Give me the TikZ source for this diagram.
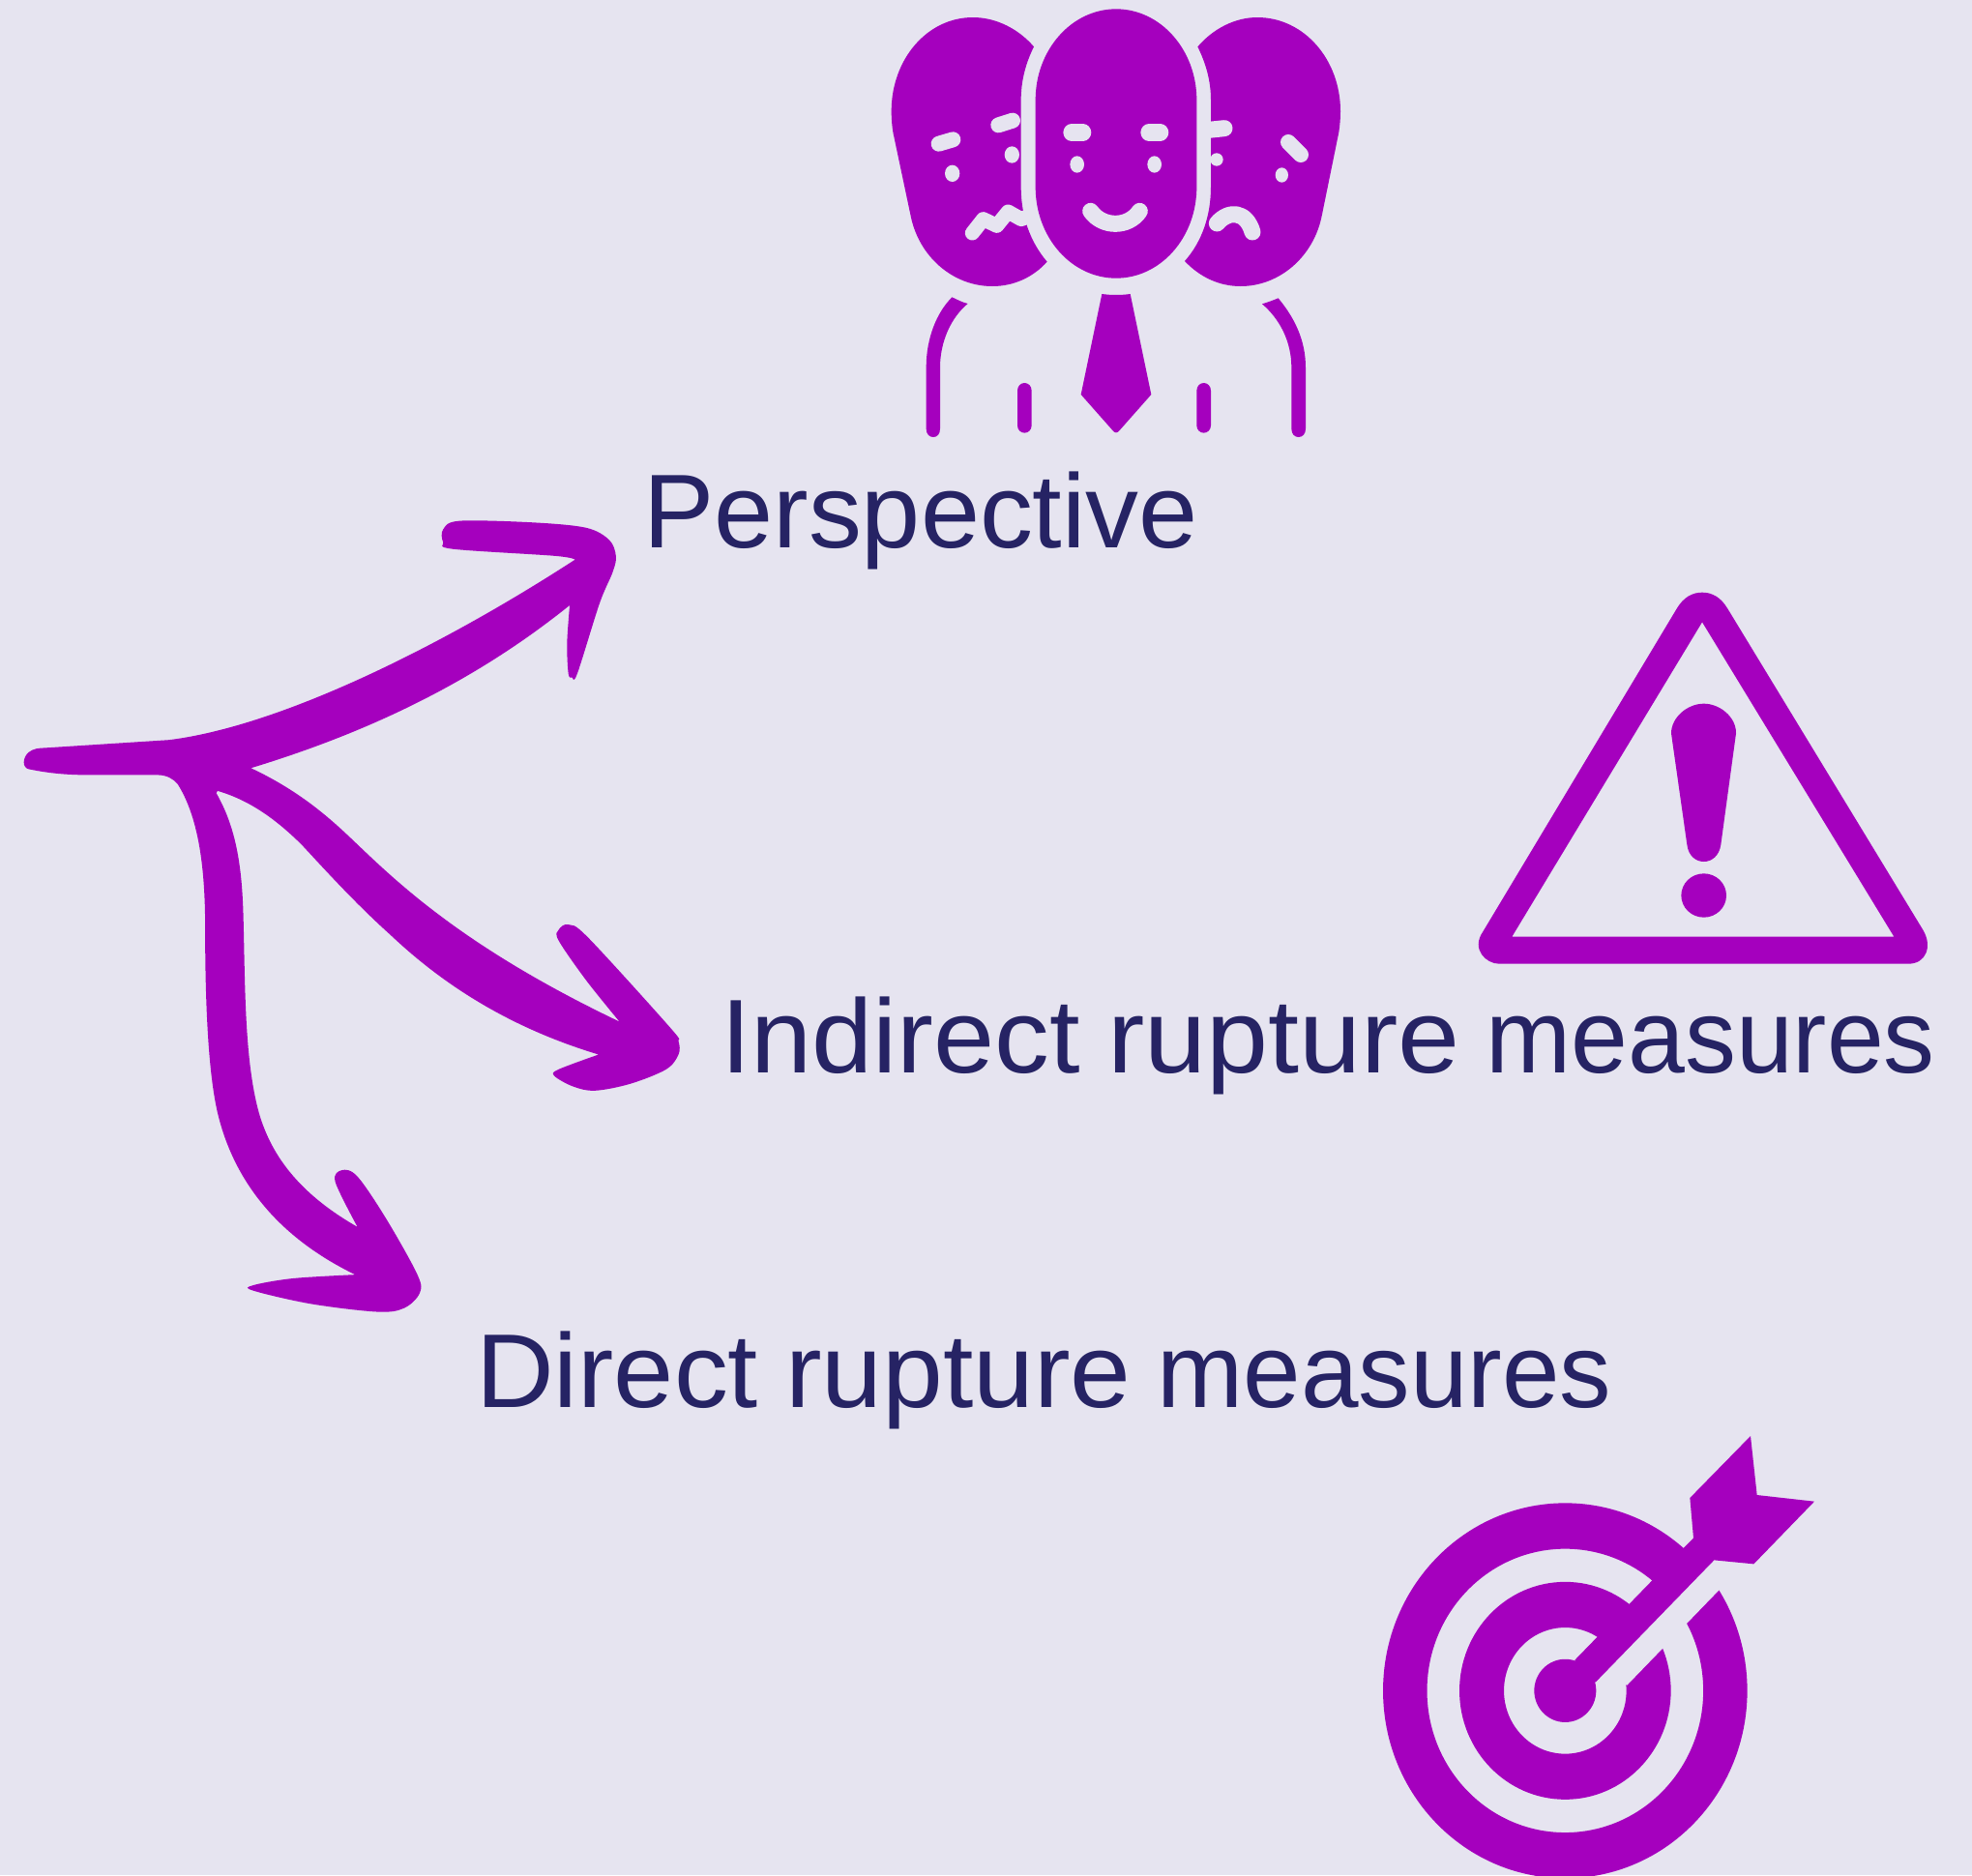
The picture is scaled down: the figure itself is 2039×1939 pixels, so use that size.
\documentclass[tikz,border=0pt]{standalone}
\usepackage{fontspec}
\usepackage{graphicx}
\setmainfont{Liberation Sans}
\definecolor{bgc}{RGB}{230,228,240}
\definecolor{pur}{RGB}{165,0,190}
\definecolor{ink}{RGB}{38,35,100}
\newcommand{\wrd}[2]{\scalebox{#1}[1]{#2}}
\tikzset{
  label text/.style={text=ink,anchor=base west,inner sep=0pt,font=\fontsize{108.5}{130}\selectfont},
  icon/.style={fill=pur,draw=none},
  cutline/.style={draw=bgc,line cap=round,line join=round},
  cutfill/.style={fill=bgc,draw=none},
  sm/.style={smooth,tension=.55}
}
\begin{document}
\begin{tikzpicture}[x=1pt,y=-1pt]
\fill[bgc] (0,0) rectangle (2039,1939);
\useasboundingbox (0,0) rectangle (2039,1939);

% labels
\node[label text] (persp) at (665,566.7) {\wrd{1.012}{Perspective}};
\node[label text] (indir) at (745,1109.7) {\wrd{1.045}{Indirect}\hspace{28pt}\wrd{1.06}{rupture}\hspace{27pt}\wrd{0.975}{measures}};
\node[label text] (direc) at (492,1455) {\wrd{1.03}{Direct}\hspace{28pt}\wrd{1.04}{rupture}\hspace{27pt}\wrd{0.986}{measures}};

% people icon (zoom coords: factor 3, origin 900,0)
\begin{scope}[shift={(900pt,0pt)},x=0.33333pt,y=-0.33333pt]
  % left head
  \fill[icon] (507,145) .. controls (460,90) and (390,54) .. (318,54)
     .. controls (175,54) and (65,185) .. (65,345)
     .. controls (65,370) and (67,390) .. (70,410)
     -- (125,670)
     .. controls (150,795) and (255,888) .. (378,888)
     .. controls (445,888) and (505,860) .. (548,812)
     .. controls (495,750) and (467,670) .. (467,580)
     -- (467,310)
     .. controls (467,250) and (482,195) .. (507,145) -- cycle;
  % right head
  \fill[icon] (1015,145) .. controls (1062,90) and (1130,54) .. (1200,54)
     .. controls (1345,54) and (1458,185) .. (1458,345)
     .. controls (1458,370) and (1456,390) .. (1453,410)
     -- (1400,670)
     .. controls (1375,795) and (1270,888) .. (1148,888)
     .. controls (1080,888) and (1020,858) .. (975,810)
     .. controls (1028,750) and (1056,670) .. (1056,580)
     -- (1056,310)
     .. controls (1056,250) and (1040,195) .. (1015,145) -- cycle;
  % centre head
  \fill[icon] (512,310) .. controls (512,155) and (624,28) .. (762,28)
     .. controls (900,28) and (1012,155) .. (1012,310)
     -- (1012,580)
     .. controls (1012,737) and (900,863) .. (762,863)
     .. controls (624,863) and (512,737) .. (512,580) -- cycle;
  % left face
  \draw[cutline,line width=16pt] (212,446) -- (256,433);
  \draw[cutline,line width=16pt] (397,388) -- (441,374);
  \fill[cutfill] (254,538) ellipse [x radius=23,y radius=26];
  \fill[cutfill] (439,480) ellipse [x radius=23,y radius=26];
  \draw[cutline,line width=15pt] (316,723) -- (350,680) -- (392,700) -- (427,657) -- (468,680) -- (490,670);
  % centre face
  \draw[cutline,line width=17.3pt] (624,411) -- (659,411);
  \draw[cutline,line width=17.3pt] (864,411) -- (899,411);
  \fill[cutfill] (641,510) ellipse [x radius=22,y radius=26];
  \fill[cutfill] (881,510) ellipse [x radius=22,y radius=26];
  \draw[cutline,line width=17pt] (683,655) .. controls (720,707) and (800,707) .. (835,655);
  % right face
  \draw[cutline,line width=17pt] (1040,404) -- (1098,398);
  \fill[cutfill] (1074,495) circle [radius=20];
  \draw[cutline,line width=16pt] (1296,441) -- (1335,480);
  \fill[cutfill] (1276,543) ellipse [x radius=20,y radius=23];
  \draw[cutline,line width=17pt] (1075,693) .. controls (1110,652) and (1165,652) .. (1185,720);
  % shoulders
  \fill[icon] (253,922) .. controls (205,970) and (173,1050) .. (173,1140) -- (173,1330)
     .. controls (173,1347) and (183,1356) .. (195,1356) .. controls (207,1356) and (216,1347) .. (216,1330)
     -- (216,1140) .. controls (216,1060) and (250,985) .. (302,942)
     .. controls (285,938) and (270,930) .. (253,922) -- cycle;
  \fill[icon] (1265,925) .. controls (1315,985) and (1350,1055) .. (1350,1140) -- (1350,1330)
     .. controls (1350,1347) and (1340,1356) .. (1328,1356) .. controls (1316,1356) and (1306,1347) .. (1306,1330)
     -- (1306,1140) .. controls (1306,1060) and (1270,990) .. (1215,943)
     .. controls (1232,938) and (1248,932) .. (1265,925) -- cycle;
  \fill[icon] (456,1212) .. controls (456,1198) and (466,1188) .. (478,1188) .. controls (490,1188) and (500,1198) .. (500,1212)
     -- (500,1320) .. controls (500,1333) and (490,1343) .. (478,1343) .. controls (466,1343) and (456,1333) .. (456,1320) -- cycle;
  \fill[icon] (1012,1212) .. controls (1012,1198) and (1022,1188) .. (1034,1188) .. controls (1046,1188) and (1056,1198) .. (1056,1212)
     -- (1056,1320) .. controls (1056,1333) and (1046,1343) .. (1034,1343) .. controls (1022,1343) and (1012,1333) .. (1012,1320) -- cycle;
  % tie
  \fill[icon] (718,912) .. controls (748,916) and (776,916) .. (806,912) -- (871,1224) -- (772,1336)
     .. controls (766,1344) and (758,1344) .. (752,1336) -- (653,1224) -- cycle;
\end{scope}

% warning triangle (factor 3, origin 1500,590)
\begin{scope}[shift={(1500pt,-590pt)},x=0.33333pt,y=-0.33333pt]
  \fill[icon,even odd rule] (700,120) .. controls (722,82) and (750,68) .. (780,68)
     .. controls (810,68) and (838,82) .. (860,120)
     -- (1465,1115) .. controls (1495,1165) and (1475,1220) .. (1420,1220)
     -- (150,1220) .. controls (110,1220) and (62,1175) .. (100,1120) -- cycle
     (780,160) -- (1375,1136) -- (190,1136) -- cycle;
  \fill[icon] (684,505) .. controls (684,455) and (735,413) .. (785,413)
     .. controls (835,413) and (886,455) .. (885,505)
     -- (838,850) .. controls (833,885) and (810,903) .. (785,903)
     .. controls (760,903) and (737,885) .. (733,850) -- cycle;
  \fill[icon] (785,1008) ellipse [x radius=70,y radius=68];
\end{scope}

% target (factor 3, origin 1400,1460)
\begin{scope}[shift={(1400pt,-1460pt)},x=0.33333pt,y=-0.33333pt]
  \fill[icon,even odd rule] (655,865) ellipse [x radius=188.3pt,y radius=194pt] (655,865) ellipse [x radius=142.8pt,y radius=146.7pt];
  \fill[icon,even odd rule] (655,865) ellipse [x radius=109.3pt,y radius=112.5pt] (655,865) ellipse [x radius=63.3pt,y radius=65.3pt];
  \fill[cutfill] (740,800) -- (847,848) -- (1200,483) -- (1080,440) -- cycle;
  \fill[icon] (655,865) ellipse [x radius=32pt,y radius=32.6pt];
  \fill[icon] (685,770) -- (1023,422) -- (1053,392) -- (1042,267) -- (1230,75) -- (1250,258)
     -- (1428,278) -- (1240,472) -- (1117,460) -- (750,838) -- (700,850) -- cycle;
\end{scope}

% hand-drawn arrows (x factor 2.178, y factor 1.823, origin 0,520)
\begin{scope}[shift={(0pt,-520pt)},x=0.45914pt,y=-0.54855pt]
  \fill[icon] plot[sm] coordinates {(1295,107) (1250,100) (1020,87) (998,74) (998,50) (1035,34) (1200,37) (1320,47) (1372,70) (1387,100) (1380,130) (1350,190) (1300,322) (1288,329) (1280,322) (1277,265) (1283,193)}
    .. controls (1050,350) and (800,440) .. (565,500)
    .. controls (680,545) and (750,600) .. (800,640)
    .. controls (900,720) and (1050,840) .. (1395,978)
    -- plot[sm] coordinates {(1395,978) (1320,900) (1258,825) (1258,805) (1280,795) (1325,820) (1510,990) (1528,1015) (1528,1040) (1500,1068) (1420,1095) (1340,1108) (1290,1100) (1248,1080) (1258,1068) (1348,1040)}
    .. controls (1150,990) and (1000,910) .. (880,815)
    .. controls (800,755) and (730,690) .. (680,645)
    .. controls (620,595) and (560,560) .. (490,543)
    -- (487,547)
    .. controls (530,610) and (545,680) .. (548,780)
    .. controls (552,900) and (550,1040) .. (580,1140)
    .. controls (610,1240) and (690,1310) .. (805,1365)
    -- plot[sm] coordinates {(805,1365) (755,1280) (770,1258) (805,1270) (870,1350) (940,1455) (945,1490) (910,1518) (850,1525) (700,1510) (570,1485) (570,1475) (660,1462) (800,1455)}
    .. controls (640,1390) and (530,1290) .. (490,1150)
    .. controls (465,1060) and (462,900) .. (462,800)
    .. controls (462,680) and (445,590) .. (400,530)
    .. controls (390,520) and (375,513) .. (355,513)
    -- (200,513)
    .. controls (140,513) and (100,508) .. (65,502)
    .. controls (50,500) and (50,480) .. (65,470)
    .. controls (75,463) and (90,462) .. (100,462)
    -- (380,447)
    .. controls (640,420) and (1010,262) .. (1295,107)
    -- cycle;
\end{scope}
\end{tikzpicture}
\end{document}
